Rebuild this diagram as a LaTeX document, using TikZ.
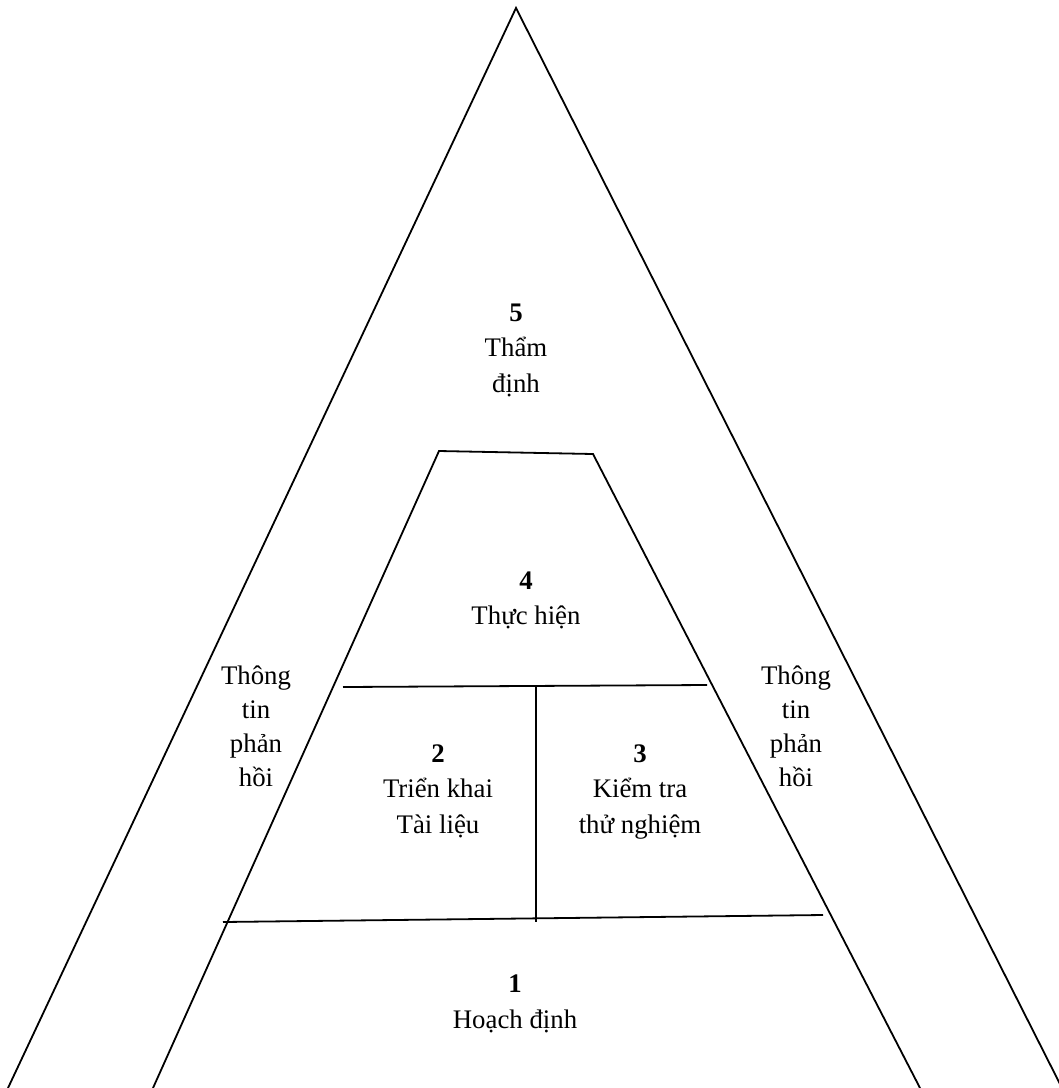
\documentclass[tikz,border=0pt]{standalone}
\usepackage{fontspec}
\setmainfont{Liberation Serif}
\begin{document}
\begin{tikzpicture}[x=1pt,y=-1pt,
  edge/.style={line width=1.8pt,black,line join=miter},
  lbl/.style={anchor=base,align=center,inner sep=0pt,
    font=\fontsize{26.8pt}{35.5pt}\selectfont},
  side/.style={anchor=base,align=center,inner sep=0pt,
    font=\fontsize{26.8pt}{34pt}\selectfont}]
\useasboundingbox[fill=white] (0,0) rectangle (1059,1088);
% outer triangle
\coordinate (apex) at (516,8);
\coordinate (oL) at (8,1088);
\coordinate (oR) at (1062,1088);
\draw[edge] (oL) -- (apex) -- (oR);
% inner trapezoid
\coordinate (tL) at (439,451);
\coordinate (tR) at (593,454);
\coordinate (iL) at (153,1088);
\coordinate (iR) at (920,1088);
\draw[edge] (iL) -- (tL) -- (tR) -- (iR);
% dividers
\coordinate (m1) at (343,687);
\coordinate (m2) at (707,685);
\draw[edge] (m1) -- (m2);
\coordinate (v1) at (536,686);
\coordinate (v2) at (536,922);
\draw[edge] (v1) -- (v2);
\coordinate (b1) at (223,922);
\coordinate (b2) at (823,915);
\draw[edge] (b1) -- (b2);
% labels (base anchor = baseline of last line)
\node[lbl] (n5) at (516,392) {\textbf{5}\\Thẩm\\định};
\node[lbl] (n4) at (526,624.5) {\textbf{4}\\Thực hiện};
\node[lbl] (n2) at (438,833) {\textbf{2}\\Triển khai\\Tài liệu};
\node[lbl] (n3) at (640,833) {\textbf{3}\\Kiểm tra\\thử nghiệm};
\node[lbl] (n1) at (515,1028) {\textbf{1}\\Hoạch định};
\node[side] (fl) at (256,786) {Thông\\tin\\phản\\hồi};
\node[side] (fr) at (796,786) {Thông\\tin\\phản\\hồi};
\end{tikzpicture}
\end{document}
